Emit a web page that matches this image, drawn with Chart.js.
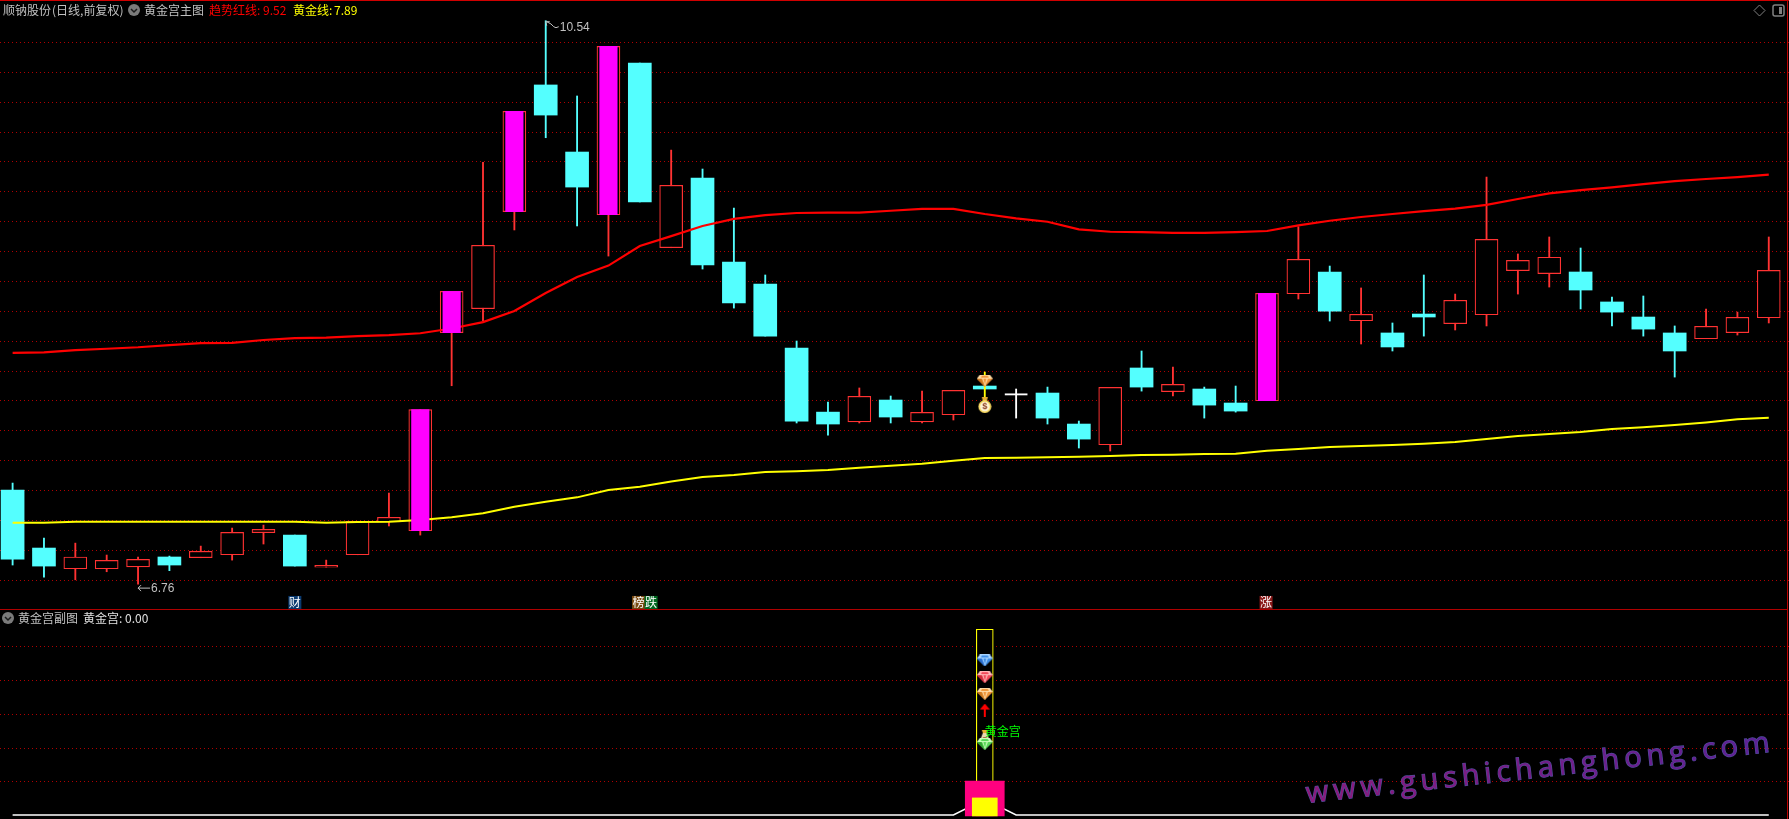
<!DOCTYPE html>
<html><head><meta charset="utf-8">
<style>
html,body{margin:0;padding:0;background:#000;overflow:hidden}
#wrap{position:relative;width:1789px;height:819px;background:#000}
canvas{position:absolute;left:0}
.rule{position:absolute;background:#b00000}
</style>
<script src="https://cdn.jsdelivr.net/npm/chart.js@4"></script>
</head><body>
<div id="wrap">
<canvas id="main" width="1789" height="609" style="top:0"></canvas>
<canvas id="sub" width="1789" height="210" style="top:609px"></canvas>
<div class="rule" style="left:0;top:0;width:1789px;height:1px;background:#d00000"></div>
<div class="rule" style="left:0;top:609px;width:1787px;height:1px"></div>
<div class="rule" style="left:1787px;top:0;width:1px;height:819px;background:#c00000"></div>
</div>
<script>
const candleKinds=['c','c','r','r','r','c','r','r','r','c','r','r','r','m','m','r','m','c','c','m','c','r','c','c','c','c','c','r','c','r','r','d','w','c','c','r','c','r','c','c','m','r','c','r','c','c','r','r','r','r','c','c','c','c','r','r','r'];
const highs=[7.437,7.068,7.034,6.954,6.941,6.947,7.014,7.135,7.155,7.088,6.920,7.180,7.370,7.930,8.723,9.589,9.931,10.539,10.034,10.367,10.255,9.671,9.544,9.282,8.833,8.390,7.981,8.075,8.021,8.054,8.059,8.182,8.068,8.081,7.853,8.079,8.323,8.215,8.081,8.088,8.710,9.157,8.893,8.746,8.511,8.833,8.705,9.490,8.974,9.088,9.014,8.685,8.692,8.491,8.605,8.584,9.088];
const bodyTops=[7.390,7.001,6.941,6.918,6.925,6.941,6.979,7.106,7.126,7.088,6.885,7.180,7.207,7.930,8.723,9.032,9.931,10.108,9.658,10.367,10.255,9.435,9.484,8.920,8.772,8.343,7.913,8.019,7.994,7.911,8.059,8.088,8.036,8.041,7.833,8.079,8.209,8.099,8.068,7.974,8.710,8.938,8.853,8.569,8.444,8.571,8.663,9.072,8.931,8.952,8.853,8.652,8.551,8.444,8.489,8.549,8.864];
const bodyBottoms=[6.927,6.880,6.862,6.862,6.875,6.887,6.936,6.956,7.104,6.880,6.873,6.956,7.177,7.117,8.446,8.607,9.258,9.906,9.423,9.237,9.323,9.016,8.900,8.645,8.423,7.853,7.833,7.848,7.880,7.848,7.895,8.068,8.028,7.873,7.732,7.694,8.081,8.050,7.960,7.920,7.989,8.707,8.591,8.526,8.350,8.551,8.506,8.566,8.862,8.842,8.732,8.584,8.470,8.323,8.405,8.446,8.546];
const lows=[6.887,6.806,6.788,6.842,6.759,6.849,6.936,6.920,7.028,6.880,6.873,6.956,7.149,7.088,8.090,8.524,9.135,9.754,9.162,8.960,9.323,9.016,8.873,8.611,8.423,7.840,7.759,7.840,7.840,7.840,7.860,8.007,7.873,7.833,7.672,7.652,8.054,8.021,7.873,7.913,7.989,8.672,8.524,8.370,8.323,8.423,8.464,8.491,8.705,8.752,8.605,8.491,8.423,8.148,8.405,8.430,8.511];
const trendRedLine=[8.311,8.314,8.329,8.338,8.348,8.363,8.376,8.378,8.397,8.410,8.413,8.423,8.430,8.442,8.474,8.517,8.591,8.712,8.819,8.896,9.027,9.094,9.162,9.209,9.235,9.249,9.251,9.251,9.264,9.276,9.276,9.242,9.213,9.190,9.139,9.123,9.121,9.115,9.115,9.121,9.128,9.166,9.197,9.222,9.242,9.262,9.278,9.304,9.343,9.381,9.403,9.421,9.443,9.463,9.477,9.490,9.506];
const goldLine=[7.171,7.171,7.177,7.177,7.177,7.177,7.177,7.177,7.177,7.177,7.171,7.175,7.177,7.189,7.207,7.234,7.278,7.312,7.341,7.390,7.412,7.448,7.477,7.491,7.511,7.516,7.524,7.540,7.553,7.567,7.587,7.605,7.607,7.610,7.614,7.618,7.625,7.627,7.632,7.634,7.654,7.665,7.679,7.685,7.692,7.701,7.712,7.732,7.752,7.766,7.779,7.799,7.811,7.826,7.844,7.865,7.875];
const mainGridValues=[10.394,10.192,9.991,9.790,9.595,9.394,9.193,8.991,8.790,8.589,8.387,8.186,7.992,7.790,7.589,7.388,7.186,6.985,6.784];
const subGridValues=[90.6,72.5,54.2,35.9,18.1];
const subBaseLine=[0,0,0,0,0,0,0,0,0,0,0,0,0,0,0,0,0,0,0,0,0,0,0,0,0,0,0,0,0,0,0,8.5,0,0,0,0,0,0,0,0,0,0,0,0,0,0,0,0,0,0,0,0,0,0,0,0,0];
const palaceIndex=31;
const palaceStick=[-0.5,100];
const palacePink=[-0.5,18.3];
const palaceYellow=[-0.5,9.2];
const headerMain=[['顺钠股份',3,'#c0c0c0'],['(日线,前复权)',52,'#c0c0c0'],['黄金宫主图',144,'#c0c0c0'],['趋势红线:',209,'#ff0000'],['9.52',263,'#ff0000'],['黄金线:',293,'#ffff00'],['7.89',334,'#ffff00']];
const headerSub=[['黄金宫副图',18,'#c0c0c0'],['黄金宫:',83,'#e0e0e0'],['0.00',125,'#e0e0e0']];
const WATERMARK='www.gushichanghong.com';

const RED='#ff3232',CYAN='#54ffff',MAG='#ff00ff';
const X_MIN=-0.402,X_MAX=56.645;
const pts=(arr)=>arr.map((v,i)=>({x:i,y:v}));
const pick=(kinds,src)=>{const o=[];candleKinds.forEach((k,i)=>{if(kinds.includes(k))o.push({x:i,y:src(i)})});return o};
const wick=i=>[lows[i],highs[i]];
const body=i=>[bodyBottoms[i],bodyTops[i]];
const barDs=(data,thick,bg,order,extra)=>Object.assign({type:'bar',data,barThickness:thick,backgroundColor:bg,borderWidth:0,order,grouped:false,borderSkipped:false},extra||{});

function mk(w,h,draw){const c=document.createElement('canvas');c.width=w;c.height=h;draw(c.getContext('2d'));return c}
function poly(g,p,col){g.fillStyle=col;g.beginPath();p.forEach((q,i)=>i?g.lineTo(q[0],q[1]):g.moveTo(q[0],q[1]));g.closePath();g.fill()}
function gem(light,base,dark){return mk(16,12,g=>{
  poly(g,[[3,0],[13,0],[16,4],[0,4]],light);
  poly(g,[[0,4],[16,4],[8,12]],base);
  poly(g,[[5,4],[11,4],[8,12]],light);
  poly(g,[[6.5,4],[9.5,4],[8,10]],base);
  poly(g,[[5,1],[11,1],[12,3],[4,3]],base);
  poly(g,[[0,4],[5,4],[8,12]],dark);
})}
const gemBlue=gem('#a8d4ff','#3f8fe8','#2a6fd0'),gemRed=gem('#ffb8b8','#f24a5a','#d02838'),gemOrange=gem('#ffdca8','#f0963a','#d07a20'),gemGreen=gem('#c8ffb8','#58d858','#30a830');
const bag=mk(14,16,g=>{
  poly(g,[[4,0],[10,0],[9,4],[5,4]],'#e8b030');
  g.fillStyle='#f8d860';g.beginPath();g.arc(7,9.5,6.5,0,7);g.fill();
  g.fillStyle='#fff6d8';g.beginPath();g.arc(7,9.5,4.8,0,7);g.fill();
  g.fillStyle='#8a3a20';g.font='bold 9px "Liberation Sans"';g.textAlign='center';g.textBaseline='middle';g.fillText('$',7,10);
});
const bottle=mk(12,12,g=>{
  poly(g,[[3,0],[9,0],[8,3],[4,3]],'#e8b030');
  poly(g,[[4,3],[8,3],[11,11],[1,11]],'#e8d8b0');
  poly(g,[[4,7],[8,7],[7,11],[5,11]],'#a07040');
});
const arrow=mk(10,13,g=>{poly(g,[[5,0],[10,6],[6,6],[6,13],[4,13],[4,6],[0,6]],'#ff0000')});

const hideX={type:'linear',display:false,min:X_MIN,max:X_MAX,offset:false,grid:{display:false}};
const yScale=(min,max,vals)=>({type:'linear',min,max,display:true,position:'left',
  ticks:{display:false},afterBuildTicks:s=>{s.ticks=vals.map(v=>({value:v}))},
  afterFit:s=>{s.width=0},
  grid:{color:'#b00000',lineWidth:1,drawTicks:false},border:{display:false,dash:[1,3]}});

function txt(g,s,x,y,col,font,align){g.font=font||'12px "Noto Sans CJK SC"';g.fillStyle=col;g.textAlign=align||'left';g.textBaseline='middle';g.fillText(s,x,y)}
function circ(g,x,y){g.fillStyle='#7a7a7a';g.beginPath();g.arc(x,y,6,0,7);g.fill();g.strokeStyle='#1a1a1a';g.lineWidth=1.5;g.beginPath();g.moveTo(x-3,y-1);g.lineTo(x,y+2);g.lineTo(x+3,y-1);g.stroke()}

const mainMarks=[['财',9,'#0a3a70',0],['榜',20,'#7a4a10',-0.04],['跌',20,'#006820',0.36],['涨',40,'#8a1818',-0.03]];
const mainLabels={
  id:'mainLabels',
  afterDraw(c){const g=c.ctx,sx=c.scales.x,sy=c.scales.y;g.save();
    headerMain.forEach(h=>txt(g,h[0],h[1],10,h[2]));
    circ(g,134,10);
    g.strokeStyle='#808080';g.lineWidth=1;g.beginPath();g.moveTo(1759.5,5);g.lineTo(1765,10.5);g.lineTo(1759.5,16);g.lineTo(1754,10.5);g.closePath();g.stroke();
    g.strokeStyle='#808080';g.lineWidth=1.5;g.beginPath();g.roundRect(1773,5,11,11,2);g.stroke();g.fillStyle='#808080';g.fillRect(1779,7,3,7);
    // extreme-value flags
    const hx=sx.getPixelForValue(17),hy=sy.getPixelForValue(highs[17]);
    g.strokeStyle='#c0c0c0';g.lineWidth=1;g.beginPath();g.moveTo(hx,hy+1);g.lineTo(hx+4,hy+1);g.moveTo(hx,hy+1);g.lineTo(hx+1,hy+5);g.moveTo(hx+1,hy+1);g.quadraticCurveTo(hx+6,hy+3,hx+8,hy+6);g.quadraticCurveTo(hx+10,hy+8,hx+13,hy+6);g.stroke();
    txt(g,'10.54',hx+14,hy+6.5,'#c0c0c0','12px "Liberation Sans"');
    const lx=sx.getPixelForValue(4),ly=sy.getPixelForValue(lows[4]);
    g.beginPath();g.moveTo(lx,ly+4);g.lineTo(lx+12,ly+4);g.moveTo(lx,ly+4);g.lineTo(lx+3,ly+1);g.moveTo(lx,ly+4);g.lineTo(lx+3,ly+7);g.stroke();
    txt(g,'6.76',lx+13,ly+4.5,'#c0c0c0','12px "Liberation Sans"');
    // boxed signal characters under the candles
    const my=sy.getPixelForValue(6.636);
    mainMarks.forEach(m=>{const mx=sx.getPixelForValue(m[1]+m[3]);g.fillStyle=m[2];g.fillRect(mx-6.5,my-6.5,13,13);txt(g,m[0],mx,my,'#ffffff','12px "Noto Sans CJK SC"','center')});
    g.restore();}
};
const subLabels={
  id:'subLabels',
  afterDraw(c){const g=c.ctx,sx=c.scales.x,sy=c.scales.y;g.save();
    headerSub.forEach(h=>txt(g,h[0],h[1],9,h[2]));
    circ(g,8,9);
    txt(g,'黄金宫',sx.getPixelForValue(palaceIndex),sy.getPixelForValue(45.2),'#00ff00');
    // watermark
    g.translate(1307,194);g.rotate(-6.3*Math.PI/180);
    g.font='500 29px "Open Sans"';g.letterSpacing='4.9px';g.textAlign='left';g.textBaseline='alphabetic';
    const gr=g.createLinearGradient(0,0,470,0);gr.addColorStop(0,'#8c1a7c');gr.addColorStop(1,'#5c2296');
    g.lineWidth=1.2;g.strokeStyle='#4d4f9c';g.strokeText(WATERMARK,0,0);
    g.fillStyle=gr;g.fillText(WATERMARK,0,0);
    g.restore();}
};

new Chart(document.getElementById('main'),{type:'bar',
 data:{datasets:[
  barDs(pick(['r','m'],wick),1.2,RED,60),
  barDs(pick(['c'],wick),1.2,CYAN,60),
  barDs(pick(['w'],wick),1.2,'#ffffff',60),
  barDs(pick(['d'],wick),1.2,'#ffff00',45),
  barDs(pick(['c','d'],body),23,CYAN,50),
  barDs(pick(['w'],body),22,'#ffffff',50),
  barDs(pick(['r','m'],body),23,'#000000',50,{borderColor:RED,borderWidth:1.2}),
  {type:'line',data:pts(goldLine),borderColor:'#ffff00',borderWidth:2,pointRadius:0,tension:0,order:30},
  {type:'line',data:pts(trendRedLine),borderColor:'#ff0000',borderWidth:2.2,pointRadius:0,tension:0,order:30},
  barDs(pick(['m'],body),17.5,MAG,20),
  {type:'scatter',data:[{x:palaceIndex,y:8.124}],pointStyle:gemOrange,pointRadius:8,order:10},
  {type:'scatter',data:[{x:palaceIndex,y:7.960}],pointStyle:bag,pointRadius:8,order:10}
 ]},
 options:{responsive:false,animation:false,events:[],layout:{padding:0,autoPadding:false},
  plugins:{legend:{display:false},tooltip:{enabled:false},title:{display:false}},
  scales:{x:hideX,y:yScale(6.592,10.678,mainGridValues)}},
 plugins:[mainLabels]});

new Chart(document.getElementById('sub'),{type:'bar',
 data:{datasets:[
  {type:'line',data:pts(subBaseLine),borderColor:'#ffffff',borderWidth:1.5,pointRadius:0,tension:0,order:60},
  barDs([{x:palaceIndex,y:palaceStick}],17,'#000000',50,{borderColor:'#ffff00',borderWidth:1.2}),
  barDs([{x:palaceIndex,y:palacePink}],39,'#ff007f',40),
  barDs([{x:palaceIndex,y:palaceYellow}],25,'#ffff00',30),
  {type:'scatter',data:[{x:palaceIndex,y:83.2}],pointStyle:gemBlue,pointRadius:8,order:10},
  {type:'scatter',data:[{x:palaceIndex,y:74.2}],pointStyle:gemRed,pointRadius:8,order:10},
  {type:'scatter',data:[{x:palaceIndex,y:65.2}],pointStyle:gemOrange,pointRadius:8,order:10},
  {type:'scatter',data:[{x:palaceIndex,y:56.5}],pointStyle:arrow,pointRadius:8,order:10},
  {type:'scatter',data:[{x:palaceIndex,y:42.5}],pointStyle:bottle,pointRadius:8,order:12},
  {type:'scatter',data:[{x:palaceIndex,y:38.2}],pointStyle:gemGreen,pointRadius:8,order:10}
 ]},
 options:{responsive:false,animation:false,events:[],layout:{padding:0,autoPadding:false},
  plugins:{legend:{display:false},tooltip:{enabled:false},title:{display:false}},
  scales:{x:hideX,y:yScale(-2.15,110.9,subGridValues)}},
 plugins:[subLabels]});
</script>
</body></html>
